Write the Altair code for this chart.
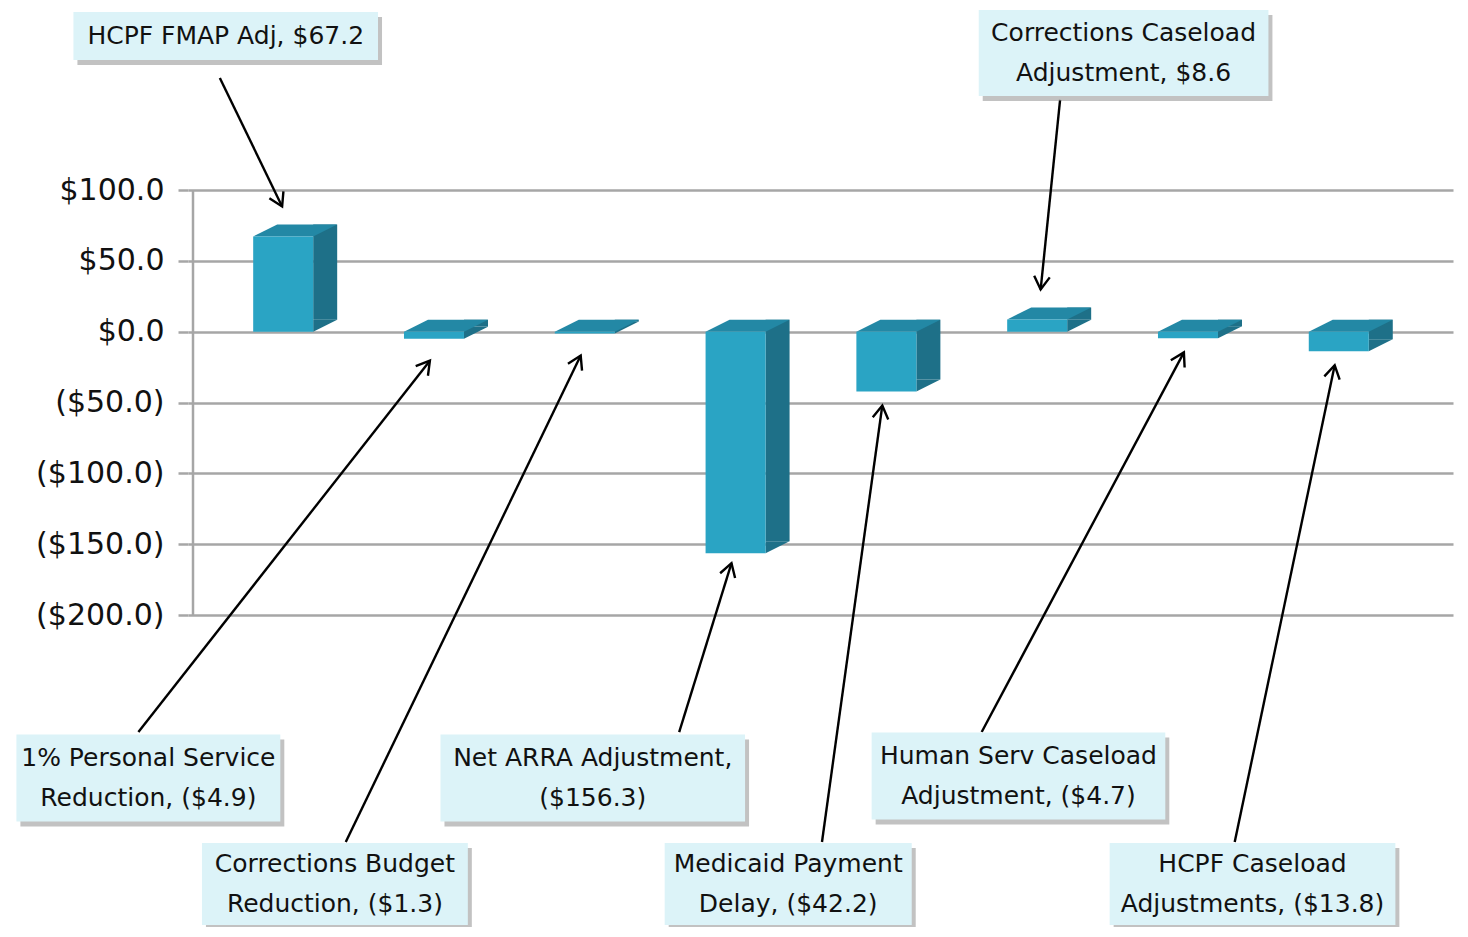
import math
import altair as alt
import pandas as pd

# ---------------- data ----------------
categories = [
    "HCPF FMAP Adj",
    "1% Personal Service Reduction",
    "Corrections Budget Reduction",
    "Net ARRA Adjustment",
    "Medicaid Payment Delay",
    "Corrections Caseload Adjustment",
    "Human Serv Caseload Adjustment",
    "HCPF Caseload Adjustments",
]
values = [67.2, -4.9, -1.3, -156.3, -42.2, 8.6, -4.7, -13.8]
label_text = [
    "HCPF FMAP Adj, $67.2",
    "1% Personal Service\nReduction, ($4.9)",
    "Corrections Budget\nReduction, ($1.3)",
    "Net ARRA Adjustment,\n($156.3)",
    "Medicaid Payment\nDelay, ($42.2)",
    "Corrections Caseload\nAdjustment, $8.6",
    "Human Serv Caseload\nAdjustment, ($4.7)",
    "HCPF Caseload\nAdjustments, ($13.8)",
]
y_ticks = [-200, -150, -100, -50, 0, 50, 100]

# ---------------- layout (annotation placement) ----------------
W, H = 1265, 915
X_DOMAIN = [-0.671, -0.671 + W / 152.0]
Y_DOMAIN = [-418.8, 227.1]
PX_X = W / (X_DOMAIN[1] - X_DOMAIN[0])
PX_Y = H / (Y_DOMAIN[1] - Y_DOMAIN[0])
LINE_H = 40

box_cx = [-0.454, -0.967, 0.270, 1.980, 3.276, 5.500, 4.803, 6.355]
box_cy = [208.7, -315.0, -389.9, -315.0, -389.9, 196.7, -313.6, -389.9]
box_w = [307, 266, 268, 307, 249, 292, 296, 288]
box_h = [48, 87, 82, 87, 82, 86, 87, 82]
tail_x = [-0.493, -1.033, 0.342, 2.553, 3.500, 5.079, 4.559, 6.237]
tail_y = [179.1, -282.6, -360.2, -282.6, -360.2, 163.6, -282.6, -360.2]
head_dx = [-0.08, -0.1, -0.1, -0.1, -0.1, -0.05, -0.1, -0.1]
head_gap = [18, 22, 22, 10, 14, 18, 14, 14]

FRONT = "#2aa4c4"
SIDE = "#1e7088"
TOP = "#2388a5"
GRID = "#a6a6a6"
FONT = "DejaVu Sans"

# ---------------- tables ----------------
bars = pd.DataFrame({
    "idx": list(range(len(values))),
    "category": categories,
    "value": values,
})
bars["top"] = bars["value"].clip(lower=0)
bars["bot"] = bars["value"].clip(upper=0)

rows = []
for i, v in enumerate(values):
    if v >= 0:
        hy = v + (12 + head_gap[i]) / PX_Y
    else:
        hy = v - head_gap[i] / PX_Y
    hx = i + head_dx[i]
    dxp = (hx - tail_x[i]) * PX_X
    dyp = -(hy - tail_y[i]) * PX_Y
    ang = math.degrees(math.atan2(dxp, -dyp)) % 360
    n_lines = label_text[i].count("\n") + 1
    rows.append({
        "label": label_text[i],
        "cx": box_cx[i], "cy": box_cy[i],
        "ty": box_cy[i] + (n_lines - 1) * LINE_H / 2 / PX_Y,
        "x1": box_cx[i] - box_w[i] / 2 / PX_X,
        "x2": box_cx[i] + box_w[i] / 2 / PX_X,
        "y1": box_cy[i] - box_h[i] / 2 / PX_Y,
        "y2": box_cy[i] + box_h[i] / 2 / PX_Y,
        "tx": tail_x[i], "tyy": tail_y[i],
        "hx": hx, "hy": hy, "angle": ang,
    })
ann = pd.DataFrame(rows)
axis_df = pd.DataFrame({"lo": [min(y_ticks)], "hi": [max(y_ticks)], "x": [X_DOMAIN[0]]})

xs = alt.Scale(domain=X_DOMAIN, nice=False, zero=False)
ys = alt.Scale(domain=Y_DOMAIN, nice=False, zero=False)

label_expr = ("datum.value < 0 ? '($' + format(-datum.value, '.1f') + ')' "
              ": '$' + format(datum.value, '.1f')")

# ---------------- bars (pseudo 3D) ----------------
base = alt.Chart(bars)
side = base.mark_bar(width=24, xOffset=31, yOffset=-12, y2Offset=-12, color=SIDE).encode(
    x=alt.X("idx:Q", scale=xs, axis=None),
    y=alt.Y("top:Q", scale=ys, axis=alt.Axis(
        values=y_ticks, labelExpr=label_expr, labelFont=FONT, labelFontSize=30,
        labelColor="#111111", labelPadding=14, grid=True, gridColor=GRID, gridWidth=2.5,
        domain=False, ticks=True, tickColor=GRID, tickWidth=2.5, tickSize=10, title=None)),
    y2="bot:Q",
)
side_foot = base.mark_point(shape="M19,-12 L43,-12 L19,0 Z", size=4, filled=True,
                            color=SIDE, opacity=1, strokeWidth=0).encode(
    x=alt.X("idx:Q", scale=xs), y=alt.Y("bot:Q", scale=ys),
)
top = base.mark_point(shape="M-41,0 L19,0 L43,-12 L-17,-12 Z", size=4, filled=True,
                      color=TOP, opacity=1, strokeWidth=0).encode(
    x=alt.X("idx:Q", scale=xs), y=alt.Y("top:Q", scale=ys),
)
front = base.mark_bar(width=60, xOffset=-11, color=FRONT).encode(
    x=alt.X("idx:Q", scale=xs), y=alt.Y("top:Q", scale=ys), y2="bot:Q",
)

axis_rule = alt.Chart(axis_df).mark_rule(color=GRID, strokeWidth=2.5).encode(
    x=alt.X("x:Q", scale=xs), y=alt.Y("lo:Q", scale=ys), y2="hi:Q",
)

# ---------------- callouts ----------------
a = alt.Chart(ann)
shadow = a.mark_rect(color="#8f8f8f", opacity=0.55, xOffset=4, x2Offset=4, yOffset=5, y2Offset=5).encode(
    x=alt.X("x1:Q", scale=xs), x2="x2:Q", y=alt.Y("y1:Q", scale=ys), y2="y2:Q",
)
box = a.mark_rect(color="#dcf3f8").encode(
    x=alt.X("x1:Q", scale=xs), x2="x2:Q", y=alt.Y("y1:Q", scale=ys), y2="y2:Q",
)
text = a.mark_text(font=FONT, fontSize=25, color="#111111", lineBreak="\n",
                   lineHeight=LINE_H, align="center", baseline="middle").encode(
    x=alt.X("cx:Q", scale=xs), y=alt.Y("ty:Q", scale=ys), text="label:N",
)
arrow = a.mark_rule(color="#000000", strokeWidth=2.4).encode(
    x=alt.X("tx:Q", scale=xs), y=alt.Y("tyy:Q", scale=ys), x2="hx:Q", y2="hy:Q",
)
head = a.mark_point(shape="M-0.6,1 L0,0 L0.6,1", filled=False, stroke="#000000",
                    strokeWidth=2.4, size=680, opacity=1).encode(
    x=alt.X("hx:Q", scale=xs), y=alt.Y("hy:Q", scale=ys), angle=alt.Angle("angle:Q", scale=None),
)

chart = alt.layer(side, side_foot, top, front, axis_rule, arrow, head, shadow, box, text).properties(
    width=W, height=H,
    padding={"left": 180, "top": 2, "right": 5, "bottom": 2},
    autosize=alt.AutoSizeParams(type="none"),
).configure_view(stroke=None)

chart.save("out.html", embed_options={"renderer": "svg", "actions": False})
